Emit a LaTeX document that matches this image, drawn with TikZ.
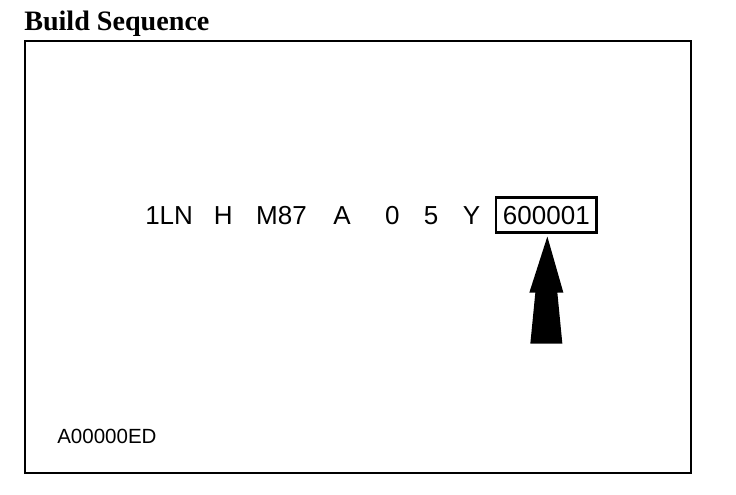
\documentclass[tikz,border=0pt]{standalone}
\usepackage{fontspec}
\setmainfont{Liberation Sans}
\newfontfamily\titlefont{Liberation Serif}
\usepackage{tikz}
\usetikzlibrary{positioning,calc}
\tikzset{
  marco/.style={line width=1.9pt, draw=black},
  titulo/.style={font=\titlefont\bfseries\fontsize{20}{22}\selectfont, inner sep=0pt, anchor=base west},
  tok/.style={font=\fontsize{18.5}{20}\selectfont, inner sep=0pt, text height=13.3pt, text depth=0pt},
  serie/.style={tok, draw, line width=1.7pt, inner xsep=0.17cm, inner ysep=0.2cm},
  codigo/.style={font=\fontsize{14.6}{16}\selectfont, inner sep=0pt, anchor=base west},
}

\begin{document}
\begin{tikzpicture}[x=0.025cm, y=-0.025cm, node distance=0.59cm]
  \useasboundingbox (0,0) rectangle (736,494);
  \node[titulo] (tit) at (24,30) {Build Sequence};
  \draw[marco] (25,41) rectangle (691,473);
  % numero de serie
  \node[tok, anchor=west] (wmi) at (145,215) {1LN};
  \node[tok, right=0.51cm of wmi] (seg) {H};
  \node[tok, right=0.57cm of seg] (lin) {M87};
  \node[tok, right=0.65cm of lin] (mot) {A};
  \node[tok, right=0.85cm of mot] (chk) {0};
  \node[tok, right=of chk] (ano) {5};
  \node[tok, right=0.6cm of ano] (pla) {Y};
  \node[serie, right=0.36cm of pla] (serial) {600001};
  % flecha
  \fill ($(serial.south)+(1,3)$) -- ++(-18,56) -- ++(6,0) -- ++(-5,51)
    -- ++(32,0) -- ++(-5,-51) -- ++(6,0) -- cycle;
  \node[codigo] (ref) at (57,443) {A00000ED};
\end{tikzpicture}
\end{document}
